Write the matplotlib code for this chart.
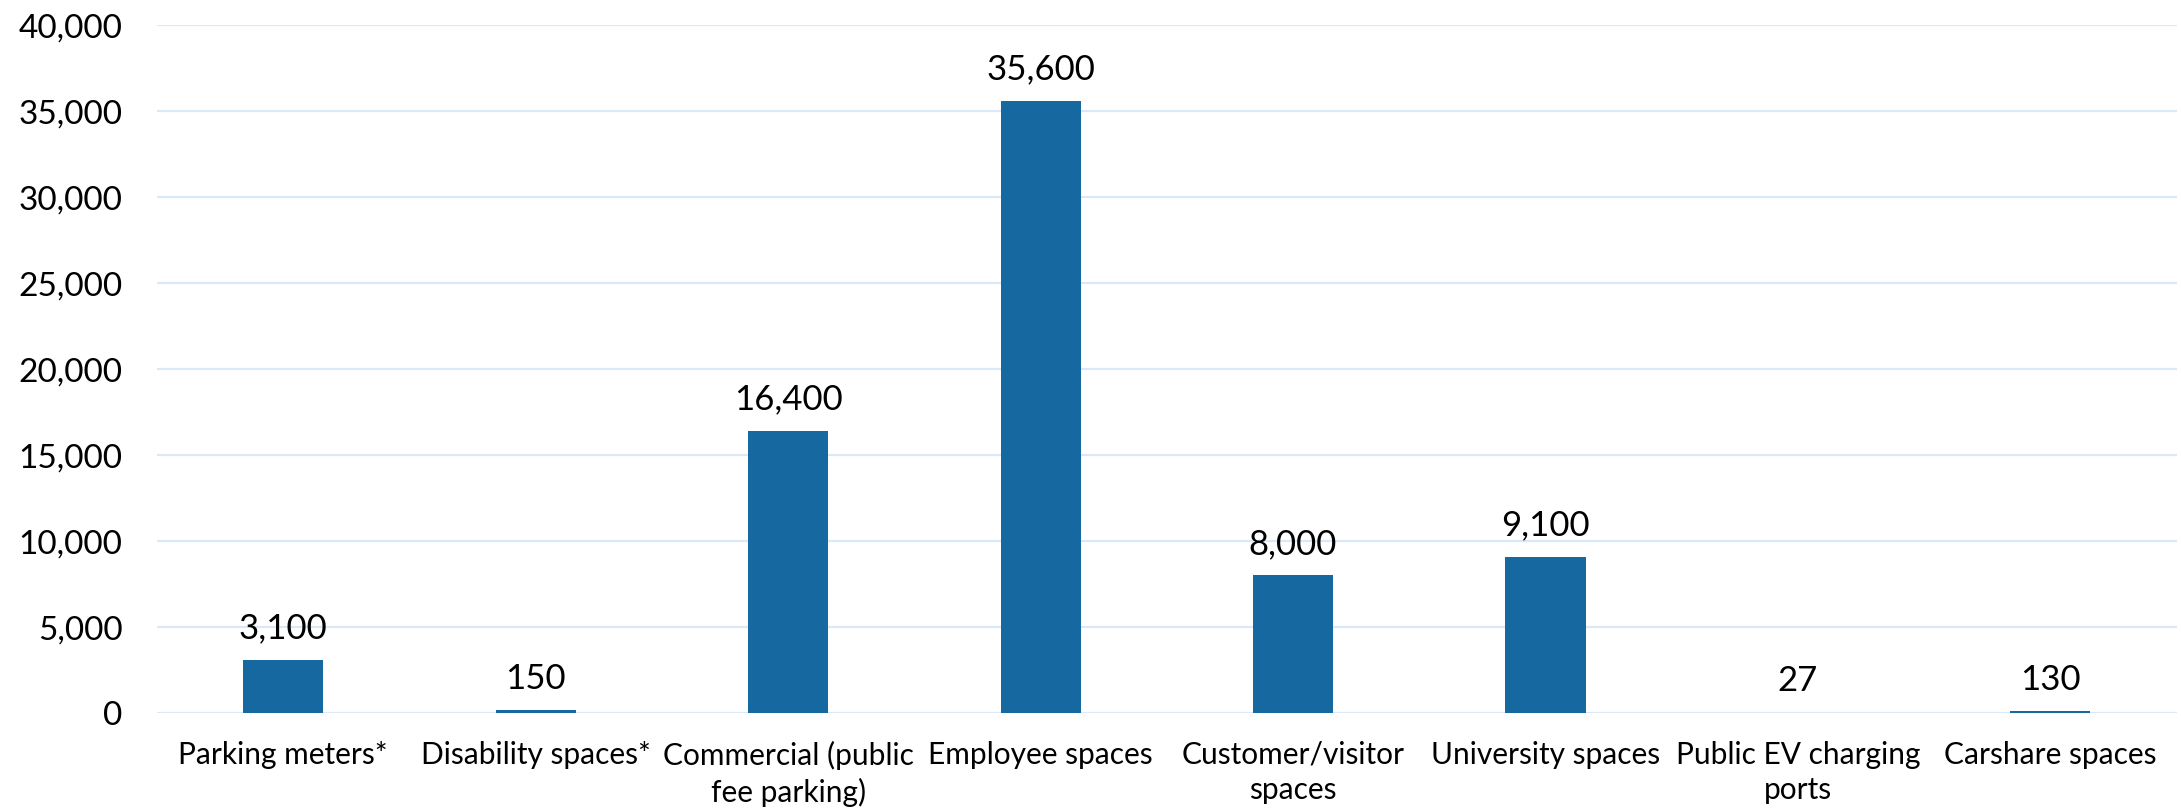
import matplotlib
matplotlib.use("Agg")
import matplotlib.pyplot as plt
from matplotlib.ticker import FuncFormatter, MultipleLocator

categories = ["Parking meters*", "Disability spaces*", "Commercial (public\nfee parking)",
              "Employee spaces", "Customer/visitor\nspaces", "University spaces",
              "Public EV charging\nports", "Carshare spaces"]
values = [3100, 150, 16400, 35600, 8000, 9100, 27, 130]

BAR_COLOR = "#1569A0"
GRID_COLOR = "#DAE9F7"

plt.rcParams["font.family"] = ["Lato", "DejaVu Sans"]

fig = plt.figure(figsize=(21.81, 8.11), dpi=100)
ax = fig.add_axes([0.072, 0.1208, 0.926, 0.8482])

x = range(len(categories))
bars = ax.bar(x, values, width=0.317, color=BAR_COLOR, zorder=3)
for xi, v in zip(x, values):
    ax.annotate(f"{v:,}", (xi, v), xytext=(0, 11), textcoords="offset points",
                ha="center", va="bottom", fontsize=25)

ax.set_xlim(-0.5, len(categories) - 0.5)
ax.set_ylim(0, 40000)
ax.yaxis.set_major_locator(MultipleLocator(5000))
ax.yaxis.set_major_formatter(FuncFormatter(lambda v, _: f"{int(v):,}"))
ax.set_xticks(list(x))
ax.set_xticklabels(categories, fontsize=21.5, linespacing=1.32)
ax.tick_params(axis="y", labelsize=24, length=0, pad=25)
ax.tick_params(axis="x", length=0, pad=20)
ax.grid(axis="y", color=GRID_COLOR, linewidth=1.6, zorder=0)
for s in ax.spines.values():
    s.set_visible(False)

fig.savefig("out.png", dpi=100)
